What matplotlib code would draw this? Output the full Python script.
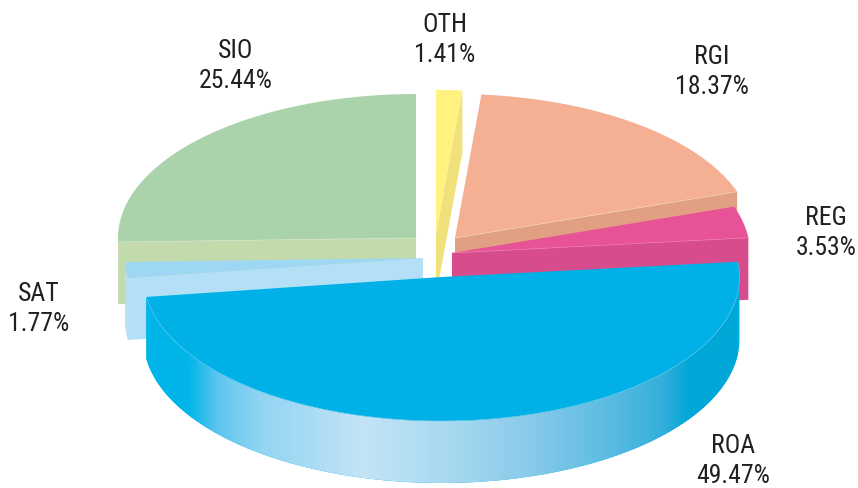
import numpy as np
import matplotlib
matplotlib.use("Agg")
import matplotlib.pyplot as plt
from matplotlib.colors import LinearSegmentedColormap
from matplotlib.patches import Polygon

plt.rcParams['font.family'] = ['Roboto Condensed Light', 'Roboto Condensed', 'Archivo Narrow', 'Roboto', 'DejaVu Sans']

# Clockwise from the top of the pie
categories = ['OTH', 'RGI', 'REG', 'ROA', 'SAT', 'SIO']
shares = [1.41, 18.37, 3.53, 49.47, 1.77, 25.44]

centers = {'OTH': (436, 235), 'RGI': (455, 239), 'REG': (452, 254),
           'ROA': (441.5, 278), 'SAT': (423, 259), 'SIO': (416, 239)}
top_colors = {'OTH': '#FFF27F', 'RGI': '#F5B093', 'REG': '#E85296',
              'ROA': '#00B1E7', 'SAT': '#9DD7F3', 'SIO': '#ABD3AB'}
side_colors = {'OTH': '#F0E17B', 'RGI': '#E2A083', 'REG': '#D64C8C',
               'ROA': '#00B1E7', 'SAT': '#B3DFF7', 'SIO': '#C3DAAD'}
edge_colors = {'RGI': '#F6CDB8', 'REG': '#EE7FB0', 'ROA': '#6FCBEE', 'SIO': '#D3E5C6'}
cut_edge = {'OTH': 'end', 'RGI': 'end', 'REG': 'end', 'ROA': None, 'SAT': 'start', 'SIO': 'start'}
label_pos = {'OTH': (445, 40), 'RGI': (712, 72), 'REG': (826, 233),
             'ROA': (733, 461), 'SAT': (39, 309), 'SIO': (236, 66)}
draw_order = ['SIO', 'OTH', 'RGI', 'REG', 'SAT', 'ROA']

A, B, DEPTH = 298, 144, 62
rim_x = [146, 187, 217, 260, 363, 446, 525, 604, 663, 691, 738]
rim_c = ['#00B5E9', '#00B5E9', '#5EC6EF', '#93D4F3', '#C3E4F7', '#A8DAF0',
         '#8CCBEA', '#5FBDE3', '#35AFDC', '#00A7D7', '#00A7D7']

fig = plt.figure(figsize=(8.58, 4.89), dpi=100)
ax = fig.add_axes([0, 0, 1, 1])
ax.set_axis_off()


def pt(c, deg, dy=0):
    t = np.radians(deg)
    return c[0] + A * np.cos(t), c[1] - B * np.sin(t) + dy


def arc(c, a0, a1, dy=0):
    ts = np.linspace(a0, a1, max(2, int(abs(a1 - a0) * 3) + 2))
    r = np.radians(ts)
    return np.column_stack([c[0] + A * np.cos(r), c[1] - B * np.sin(r) + dy])


total = sum(shares)
spans = {}
angle = 90.0
for name, v in zip(categories, shares):
    spans[name] = (angle, angle - v / total * 360)
    angle = spans[name][1]

for z, name in enumerate(draw_order):
    c = centers[name]
    a0, a1 = spans[name]
    base = 10 * (z + 1)
    near = []
    lo, hi = min(a0, a1), max(a0, a1)
    for k in (-360, 0):
        l2, h2 = max(lo, 180 + k), min(hi, 360 + k)
        if h2 > l2:
            near.append((h2, l2))
    for h2, l2 in near:
        upper = arc(c, h2, l2)
        lower = arc(c, l2, h2, DEPTH)
        rim = Polygon(np.vstack([upper, lower]), closed=True, fc=side_colors[name],
                      ec='none', zorder=base)
        ax.add_patch(rim)
        if name == 'ROA':
            cmap = LinearSegmentedColormap.from_list(
                'rim', [((x - rim_x[0]) / (rim_x[-1] - rim_x[0]), col)
                        for x, col in zip(rim_x, rim_c)])
            im = ax.imshow(np.linspace(0, 1, 600)[None, :], cmap=cmap, aspect='auto',
                           extent=(rim_x[0], rim_x[-1], 489, 0), zorder=base + 1)
            im.set_clip_path(rim)
    if cut_edge[name]:
        e = a1 if cut_edge[name] == 'end' else a0
        p = pt(c, e)
        ax.add_patch(Polygon([c, p, (p[0], p[1] + DEPTH), (c[0], c[1] + DEPTH)],
                             closed=True, fc=side_colors[name], ec='none', zorder=base + 2))
    ax.add_patch(Polygon(np.vstack([[c], arc(c, a0, a1)]), closed=True,
                         fc=top_colors[name], ec='none', zorder=base + 3))
    # thin highlight where the top surface meets the side
    if name in edge_colors:
        if cut_edge[name]:
            e = a1 if cut_edge[name] == 'end' else a0
            p = pt(c, e)
            ax.plot([c[0], p[0]], [c[1], p[1]], color=edge_colors[name], lw=0.5, zorder=base + 4)
        else:
            line = arc(c, a0, a1)
            ax.plot(line[:, 0], line[:, 1], color=edge_colors[name], lw=0.4, zorder=base + 4)
    lab = label_pos[name]
    v = shares[categories.index(name)]
    ax.text(lab[0], lab[1], f"{name}\n{v:.2f}%", ha='center', va='center', fontsize=18.5,
            color='#231F20', linespacing=1.32, zorder=100)

ax.set_xlim(0, 858)
ax.set_ylim(489, 0)
fig.savefig('out.png', dpi=100)
